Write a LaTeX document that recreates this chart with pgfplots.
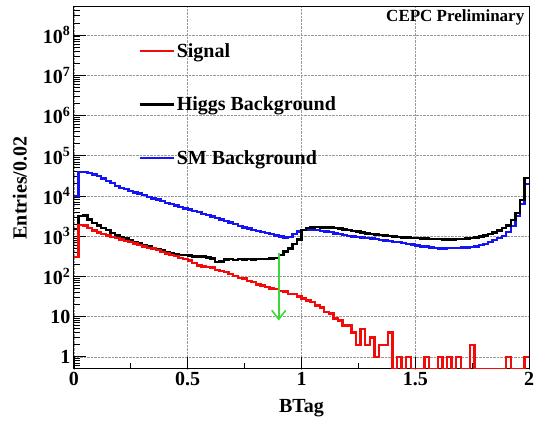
\documentclass[border=0pt]{standalone}
\usepackage{fontspec}
\setmainfont{Liberation Serif}
\usepackage{pgfplots}
\pgfplotsset{compat=1.18}
\usepackage{pgfplotstable}
\usetikzlibrary{arrows.meta}
\definecolor{arrgreen}{RGB}{60,215,60}
\definecolor{hblue}{RGB}{20,20,245}
\definecolor{hred}{RGB}{245,10,10}

\pgfplotstableread{
x y
0.00 300
0.02 1900
0.04 1850
0.06 1600
0.08 1400
0.10 1250
0.12 1150
0.14 1050
0.16 950
0.18 890
0.20 830
0.22 760
0.24 710
0.26 660
0.28 600
0.30 560
0.32 510
0.34 490
0.36 450
0.38 410
0.40 370
0.42 340
0.44 320
0.46 290
0.48 270
0.50 250
0.52 215
0.54 185
0.56 178
0.58 174
0.60 165
0.62 145
0.64 138
0.66 130
0.68 115
0.70 102
0.72 92
0.74 89
0.76 76
0.78 72
0.80 63
0.82 60
0.84 55
0.86 50
0.88 48
0.90 44
0.92 42
0.94 37
0.96 36
0.98 32
1.00 28
1.02 25
1.04 23
1.06 19
1.08 17
1.10 13
1.12 12
1.14 9
1.16 8
1.18 6
1.20 6
1.22 4
1.24 2
1.26 5
1.28 2
1.30 3
1.32 1
1.34 2
1.36 2
1.38 4
1.40 0.5
1.42 1
1.44 0.5
1.46 1
1.48 0.5
1.50 0.5
1.52 0.5
1.54 1
1.56 0.5
1.58 0.5
1.60 1
1.62 0.5
1.64 1
1.66 0.5
1.68 1
1.70 0.5
1.72 0.5
1.74 2
1.76 0.5
1.78 0.5
1.80 0.5
1.82 0.5
1.84 0.5
1.86 0.5
1.88 0.5
1.90 1
1.92 0.5
1.94 0.5
1.96 0.5
1.98 1
2.00 1
}\sigdata

\pgfplotstableread{
x y
0.00 1500
0.02 3200
0.04 3300
0.06 2600
0.08 2150
0.10 1850
0.12 1620
0.14 1410
0.16 1200
0.18 1050
0.20 930
0.22 870
0.24 800
0.26 725
0.28 660
0.30 600
0.32 550
0.34 510
0.36 480
0.38 440
0.40 400
0.42 380
0.44 360
0.46 345
0.48 340
0.50 330
0.52 315
0.54 315
0.56 310
0.58 295
0.60 280
0.62 230
0.64 235
0.66 265
0.68 275
0.70 258
0.72 270
0.74 265
0.76 270
0.78 262
0.80 270
0.82 275
0.84 272
0.86 280
0.88 290
0.90 340
0.92 420
0.94 500
0.96 630
0.98 830
1.00 1450
1.02 1580
1.04 1650
1.06 1670
1.08 1660
1.10 1650
1.12 1630
1.14 1590
1.16 1550
1.18 1480
1.20 1420
1.22 1350
1.24 1300
1.26 1230
1.28 1180
1.30 1150
1.32 1100
1.34 1070
1.36 1050
1.38 1000
1.40 980
1.42 950
1.44 940
1.46 920
1.48 910
1.50 900
1.52 880
1.54 870
1.56 860
1.58 850
1.60 840
1.62 830
1.64 830
1.66 835
1.68 845
1.70 850
1.72 870
1.74 890
1.76 930
1.78 980
1.80 1050
1.82 1150
1.84 1250
1.86 1400
1.88 1600
1.90 1850
1.92 2500
1.94 3800
1.96 8000
1.98 28000
2.00 28000
}\higgsdata

\pgfplotstableread{
x y
0.00 10000
0.02 40000
0.04 39000
0.06 37000
0.08 34000
0.10 31000
0.12 27500
0.14 24000
0.16 21000
0.18 18000
0.20 16000
0.22 15000
0.24 13500
0.26 12300
0.28 11500
0.30 10500
0.32 9500
0.34 8700
0.36 8100
0.38 7400
0.40 6800
0.42 6300
0.44 5750
0.46 5370
0.48 4900
0.50 4570
0.52 4260
0.54 3980
0.56 3630
0.58 3390
0.60 3090
0.62 2820
0.64 2630
0.66 2400
0.68 2190
0.70 2000
0.72 1820
0.74 1660
0.76 1550
0.78 1450
0.80 1350
0.82 1290
0.84 1200
0.86 1120
0.88 1050
0.90 980
0.92 930
0.94 950
0.96 1120
0.98 1320
1.00 1450
1.02 1480
1.04 1450
1.06 1410
1.08 1350
1.10 1320
1.12 1260
1.14 1180
1.16 1120
1.18 1070
1.20 1020
1.22 980
1.24 950
1.26 930
1.28 910
1.30 870
1.32 850
1.34 810
1.36 780
1.38 760
1.40 720
1.42 710
1.44 680
1.46 650
1.48 620
1.50 590
1.52 560
1.54 550
1.56 525
1.58 510
1.60 500
1.62 500
1.64 505
1.66 510
1.68 515
1.70 525
1.72 525
1.74 540
1.76 560
1.78 600
1.80 650
1.82 710
1.84 800
1.86 890
1.88 1020
1.90 1260
1.92 1780
1.94 3200
1.96 6300
1.98 20000
2.00 20000
}\smdata

\begin{document}
\begin{tikzpicture}
\begin{axis}[
  at={(0pt,0pt)}, anchor=south west,
  scale only axis, width=455pt, height=362pt,
  ymode=log, xmin=0, xmax=2, ymin=0.5, ymax=5e8,
  axis line style={line width=1pt},
  xtick={0,0.5,1,1.5,2}, xticklabels={0,0.5,1,1.5,2},
  minor xtick={0.25,0.75,1.25,1.75},
  ytick={1,10,100,1e3,1e4,1e5,1e6,1e7,1e8},
  yticklabels={1,10,10\textsuperscript{2},10\textsuperscript{3},10\textsuperscript{4},10\textsuperscript{5},10\textsuperscript{6},10\textsuperscript{7},10\textsuperscript{8}},
  minor ytick={0.6,0.7,0.8,0.9,
    2,3,4,5,6,7,8,9,
    2e1,3e1,4e1,5e1,6e1,7e1,8e1,9e1,
    2e2,3e2,4e2,5e2,6e2,7e2,8e2,9e2,
    2e3,3e3,4e3,5e3,6e3,7e3,8e3,9e3,
    2e4,3e4,4e4,5e4,6e4,7e4,8e4,9e4,
    2e5,3e5,4e5,5e5,6e5,7e5,8e5,9e5,
    2e6,3e6,4e6,5e6,6e6,7e6,8e6,9e6,
    2e7,3e7,4e7,5e7,6e7,7e7,8e7,9e7,
    2e8,3e8,4e8},
  tick align=inside, xtick pos=bottom, ytick pos=left,
  major tick length=12pt, minor tick length=6pt,
  tick style={black, line width=0.9pt},
  xmajorgrids, ymajorgrids,
  major grid style={densely dotted, gray!80, line width=0.6pt},
  tick label style={font=\fontsize{20}{20}\selectfont\bfseries},
  xlabel={BTag}, ylabel={Entries/0.02},
  label style={font=\fontsize{20}{20}\selectfont\bfseries},
  xlabel style={at={(axis description cs:0.5,-0.108)}, anchor=center},
  ylabel style={at={(axis description cs:-0.119,0.5)}, anchor=center},
  legend cell align=left,
  legend style={at={(axis description cs:0.141,0.905)}, anchor=north west,
    draw=none, fill=none, inner sep=0pt, row sep=34pt,
    font=\fontsize{20}{20}\selectfont\bfseries},
  legend image code/.code={\draw[#1, line width=2.4pt] (0pt,0pt) -- (34pt,0pt);},
]
\addlegendimage{hred}\addlegendentry{Signal}
\addlegendimage{black}\addlegendentry{Higgs Background}
\addlegendimage{hblue}\addlegendentry{SM Background}
\addplot[hblue, line width=2.4pt, const plot mark left, forget plot] table[x=x,y=y] {\smdata};
\addplot[black, line width=2.4pt, const plot mark left, forget plot] table[x=x,y=y] {\higgsdata};
\addplot[hred, line width=2.4pt, const plot mark left, forget plot] table[x=x,y=y] {\sigdata};
\draw[arrgreen, line width=1.6pt, -{Straight Barb[length=9pt,width=14pt]}] (axis cs:0.9,380) -- (axis cs:0.9,8);
\node[anchor=east, inner sep=0pt, font=\fontsize{17}{17}\selectfont\bfseries] at (rel axis cs:0.99,0.97) {CEPC Preliminary};
\end{axis}
\pgfresetboundingbox
\path (-74pt,-56pt) rectangle (462pt,369pt);
\end{tikzpicture}
\end{document}
